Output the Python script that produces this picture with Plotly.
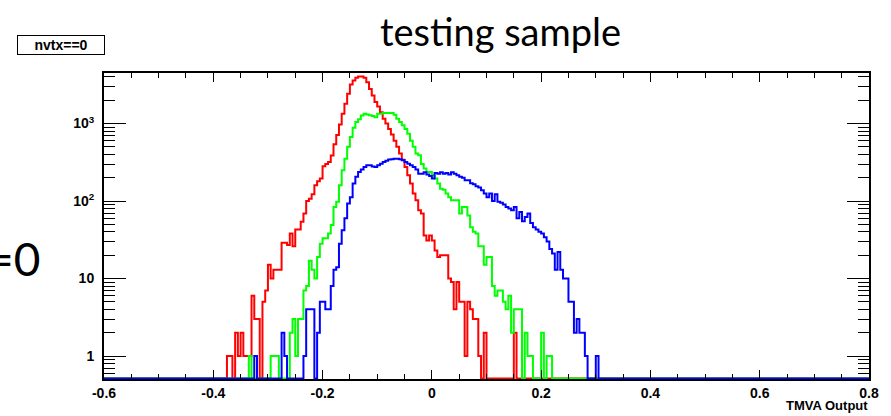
import numpy as np
import plotly.graph_objects as go

# ---------------- data ----------------
x_min, x_max = -0.6, 0.8
bin_width = 0.005

red_start = -0.375
red_counts = [1, 1, 0, 2, 1, 2, 1, 1, 1, 6, 3, 3, 0, 5, 7, 15, 10, 13, 13, 13,
              29, 29, 27, 38, 26, 43, 43,
              54, 69, 100, 107, 122, 160, 180, 195, 281, 300, 318, 387, 540, 710, 970, 1340, 1800, 2420,
              3190, 3600, 3900, 4050, 4050, 3900, 3420, 2800, 2300, 1900, 1660, 1400, 1150, 1000, 850, 720,
              600, 500, 410, 340, 275, 215, 168, 125, 102,
              76, 69, 36, 31, 36, 31, 23, 19, 20, 20, 20, 10, 9, 4, 9, 5, 5, 1, 5, 4, 3, 3, 1, 0, 2,
              0, 0, 0, 0, 0, 0, 0, 0, 0, 0, 2]

green_start = -0.335
green_counts = [1, 0, 0, 0, 0, 0, 0, 0, 1, 1, 1, 0, 0, 0, 0, 2, 3, 1, 3, 3,
                7, 8, 17, 13, 10, 19, 28, 33, 33, 38, 49, 84, 98, 160, 250, 350, 500, 670, 880, 1050,
                1140, 1270, 1340, 1310, 1280, 1250, 1210, 1340, 1340, 1370, 1370, 1370, 1370, 1300, 1150, 1050,
                950, 850, 740, 600, 500, 410, 390, 300, 262, 237, 237, 215, 195, 168, 144, 140, 125, 112, 102, 102,
                102, 69, 84, 84, 65, 46, 40, 38, 26, 26, 15, 19, 19, 8, 6, 7, 7, 5, 4, 6,
                2, 4, 4, 4, 0, 2, 1, 1, 0, 0, 0, 2, 0, 1, 1]

blue_start = -0.325
blue_counts = [1, 0, 0, 0, 0, 0, 0, 0, 0, 0, 2, 1, 0, 0, 0, 0, 0, 0, 1, 4,
               4, 4, 0, 2, 5, 5, 4, 4, 8, 13, 14, 28, 42, 60, 93, 112, 168, 205, 237, 255,
               275, 290, 290, 280, 275, 290, 302, 318, 330, 343, 345, 350, 350, 345, 335, 318, 302, 290, 275, 255,
               225, 225, 235, 220, 210, 195, 230, 225, 235, 225, 230, 220, 235, 225, 215, 205, 200, 185, 185, 170,
               165, 155, 150, 138, 125, 112, 125, 100, 122, 98, 95, 90, 84, 80, 76, 84, 60, 72, 55, 62,
               69, 52, 46, 43, 40, 38, 34, 30, 24, 21, 13, 22, 13, 10, 10, 5, 5, 2, 3, 2,
               2, 1, 0, 0, 0, 1]

x_tick_vals = [-0.6, -0.4, -0.2, 0.0, 0.2, 0.4, 0.6, 0.8]
x_tick_text = ["-0.6", "-0.4", "-0.2", "0", "0.2", "0.4", "0.6", "0.8"]
y_tick_vals = [1, 10, 100, 1000]
y_tick_text = ["1", "10", "10<sup>2</sup>", "10<sup>3</sup>"]
y_min, y_max = 0.505, 4490

title_text = "testing sample"
pave_text = "nvtx==0"
side_text = "=0"
x_title = "TMVA Output"

# ---------------- build histograms ----------------
n_bins = int(round((x_max - x_min) / bin_width))
edges = x_min + bin_width * np.arange(n_bins + 1)
log_lo, log_hi = np.log10(y_min), np.log10(y_max)
floor_val = 10 ** (log_lo + 0.006)


def full_hist(start, counts):
    h = np.zeros(n_bins)
    i0 = int(round((start - x_min) / bin_width))
    h[i0:i0 + len(counts)] = counts
    return h


def step_xy(h):
    yv = np.where(h > 0, h, floor_val)
    return edges, np.append(yv, yv[-1])


fig = go.Figure()
for start, counts, col in [(red_start, red_counts, "#ff0000"),
                           (green_start, green_counts, "#00ff00"),
                           (blue_start, blue_counts, "#0000ff")]:
    xs, ys = step_xy(full_hist(start, counts))
    fig.add_trace(go.Scatter(x=xs, y=ys, mode="lines", line=dict(color=col, width=2, shape="hv"),
                             hoverinfo="skip", showlegend=False))

# minor ticks for log axis
y_minor = []
for dec in [0.1, 1, 10, 100, 1000]:
    for k in range(2, 10):
        v = k * dec
        if y_min < v < y_max:
            y_minor.append(v)

W, H = 891, 416
L, R, T, B = 104, 20, 73, 37
pw, ph = W - L - R, H - T - B


def px(xp):
    return (xp - L) / pw


def py(yp):
    return 1 - (yp - T) / ph


xfont = dict(family="Liberation Sans, Arial, sans-serif", size=14, color="black", weight="bold")
yfont = dict(family="Liberation Sans, Arial, sans-serif", size=14, color="black", weight="bold")

fig.update_layout(
    width=W, height=H,
    margin=dict(l=L, r=R, t=T, b=B),
    paper_bgcolor="white", plot_bgcolor="white",
    showlegend=False,
    xaxis=dict(range=[x_min, x_max], showgrid=False, zeroline=False,
               showline=True, linecolor="black", linewidth=2, mirror="ticks",
               ticks="inside", ticklen=9, tickwidth=1, tickcolor="black",
               tickvals=x_tick_vals, ticktext=x_tick_text, tickfont=xfont,
               ticklabelstandoff=0,
               minor=dict(ticks="inside", ticklen=5, tickwidth=1, tickcolor="black",
                          dtick=0.05, tick0=0, showgrid=False)),
    yaxis=dict(type="log", range=[log_lo, log_hi], showgrid=False, zeroline=False,
               showline=True, linecolor="black", linewidth=2, mirror="ticks",
               ticks="inside", ticklen=22, tickwidth=1, tickcolor="black",
               tickvals=y_tick_vals, ticktext=y_tick_text, tickfont=yfont,
               ticklabelstandoff=5,
               minor=dict(ticks="inside", ticklen=11, tickwidth=1, tickcolor="black",
                          tickmode="array", tickvals=y_minor, showgrid=False)),
)

fig.add_annotation(x=px(502), y=py(31), xref="paper", yref="paper", text=title_text,
                   showarrow=False, xanchor="center", yanchor="middle",
                   font=dict(family="Lato, Open Sans, sans-serif", size=38, color="black"))
fig.add_annotation(x=px(60.5), y=py(45), xref="paper", yref="paper", text="<b>" + pave_text + "</b>",
                   showarrow=False, xanchor="center", yanchor="middle",
                   bordercolor="black", borderwidth=1, borderpad=1, width=84, height=16,
                   bgcolor="white",
                   font=dict(family="Liberation Sans, Arial, sans-serif", size=14, color="black"))
fig.add_annotation(x=px(42), y=py(258), xref="paper", yref="paper", text=side_text,
                   showarrow=False, xanchor="right", yanchor="middle",
                   font=dict(family="Lato, Open Sans, sans-serif", size=46, color="black"))
fig.add_annotation(x=px(872), y=py(405), xref="paper", yref="paper", text="<b>" + x_title + "</b>",
                   showarrow=False, xanchor="right", yanchor="middle",
                   font=dict(family="Liberation Sans, Arial, sans-serif", size=13, color="black"))

fig.write_html("out.html")
